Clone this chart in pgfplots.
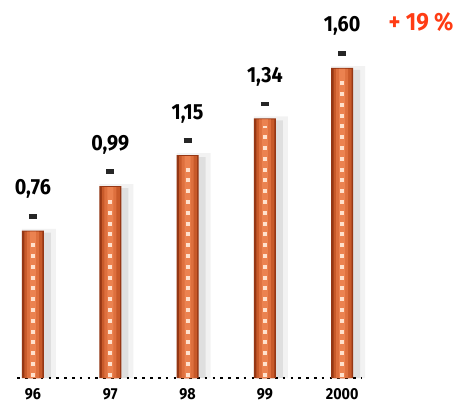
\documentclass[border=0pt]{standalone}
\usepackage{pgfplots}
\pgfplotsset{compat=1.18}
\usepackage{fontspec}
\setmainfont{Fira Sans}[FakeStretch=0.9]
\definecolor{barA}{RGB}{150,55,20}
\definecolor{barB}{RGB}{200,90,42}
\definecolor{barC}{RGB}{222,112,62}
\definecolor{barD}{RGB}{235,130,80}
\definecolor{dotc}{RGB}{255,225,205}
\definecolor{pct}{RGB}{255,60,20}
\begin{document}
\begin{tikzpicture}
\begin{axis}[
  scale only axis, width=344bp, height=310bp,
  xmin=-0.2, xmax=4.25, ymin=0, ymax=1.6,
  axis x line=bottom, axis y line=none,
  x axis line style={-, line width=2.6bp, dash pattern=on 2.6bp off 5.2bp},
  xtick={0,1,2,3,4}, xticklabels={96,97,98,99,2000},
  major tick length=0pt,
  xticklabel style={font=\fontsize{16}{16}\selectfont\bfseries, yshift=-7bp},
  clip=false,
]
% soft shadow
\addplot[ybar, bar width=34bp, bar shift=6bp, draw=none, fill=black, fill opacity=0.05]
  coordinates {(0,0.77) (1,1.00) (2,1.16) (3,1.35) (4,1.61)};
\addplot[ybar, bar width=26bp, bar shift=5bp, draw=none, fill=black, fill opacity=0.08]
  coordinates {(0,0.75) (1,0.98) (2,1.14) (3,1.33) (4,1.59)};
% bars, layered for a rounded look
\addplot[ybar, bar width=22bp, bar shift=0pt, draw=none, fill=barA]
  coordinates {(0,0.76) (1,0.99) (2,1.15) (3,1.34) (4,1.60)};
\addplot[ybar, bar width=18bp, bar shift=0.5bp, draw=none, fill=barB]
  coordinates {(0,0.755) (1,0.985) (2,1.145) (3,1.335) (4,1.595)};
\addplot[ybar, bar width=12bp, bar shift=0pt, draw=none, fill=barC]
  coordinates {(0,0.755) (1,0.985) (2,1.145) (3,1.335) (4,1.595)};
\addplot[ybar, bar width=6bp, bar shift=0pt, draw=none, fill=barD]
  coordinates {(0,0.755) (1,0.985) (2,1.145) (3,1.335) (4,1.595)};
\addplot[ycomb, dotc, line width=4bp, dash pattern=on 4bp off 6.8bp, dash phase=-12bp]
  coordinates {(0,0.72) (1,0.95) (2,1.11) (3,1.30) (4,1.56)};
\addplot[only marks, mark=none,
  nodes near coords={\pgfmathprintnumber{\pgfplotspointmeta}\\[0bp]{\color{black!85}\rule{8bp}{4.5bp}}},
  point meta=explicit,
  every node near coord/.style={anchor=south, yshift=12bp, text=black, align=center, inner sep=0pt,
    font=\fontsize{22}{24}\selectfont\bfseries,
    /pgf/number format/.cd, fixed, fixed zerofill, precision=2, use comma, assume math mode=true},
  ]
  coordinates {(0,0.76) [0.76] (1,0.99) [0.99] (2,1.15) [1.15] (3,1.34) [1.34] (4,1.60) [1.60]};
\node[text=pct, font=\fontsize{25}{25}\selectfont\bfseries] at (axis cs:5.02,1.835) {+ 19 \%};
\end{axis}
\pgfresetboundingbox
\path (-17.5bp,-29bp) rectangle (449.5bp,378bp);
\end{tikzpicture}
\end{document}
